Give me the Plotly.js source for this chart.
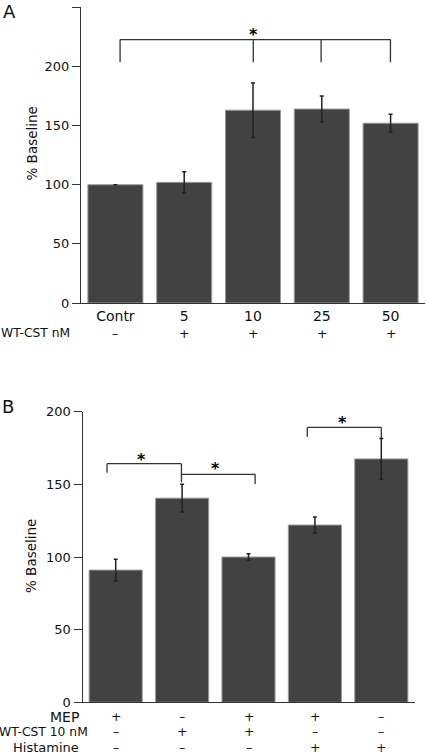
<!DOCTYPE html>
<html>
<head>
<meta charset="utf-8">
<script src="https://cdn.plot.ly/plotly-3.0.1.min.js"></script>
<style>html,body{margin:0;padding:0;background:#fff;}#chart{width:427px;height:754px;}</style>
</head>
<body>
<div id="chart"></div>
<script>
// Panel A data
const catsA = ["Contr", "5", "10", "25", "50"];
const valsA = [100, 102, 163, 164, 152];
const errA = [null, 9, 23, 11, 7.5];
const rowLabelA = "WT-CST nM";
const rowA = ["–", "+", "+", "+", "+"];

// Panel B data
const catsB = ["MEP", "WT-CST", "MEP+WT-CST", "MEP+Histamine", "Histamine"];
const valsB = [91, 140.5, 100, 122, 167.5];
const errB = [7.5, 9.6, 2.3, 5.6, 14];
const rowLabelsB = ["MEP", "WT-CST 10 nM", "Histamine"];
const rowMEP = ["+", "–", "+", "+", "–"];
const rowWT = ["–", "+", "+", "–", "–"];
const rowHist = ["–", "–", "–", "+", "+"];

const W = 427, H = 754;
const py = p => 1 - p / H;
const px = p => p / W;
const FONT = "DejaVu Sans, sans-serif";
const barFill = "#424242", barEdge = "#9a9a9a", lineCol = "#333";

const traces = [
  {type: "bar", x: catsA, y: valsA, xaxis: "x", yaxis: "y",
   marker: {color: barFill, line: {color: barEdge, width: 1}},
   error_y: {type: "data", array: errA, visible: true, color: "#222", thickness: 1.5, width: 2},
   hoverinfo: "skip"},
  {type: "bar", x: catsB, y: valsB, xaxis: "x2", yaxis: "y2",
   marker: {color: barFill, line: {color: barEdge, width: 1}},
   error_y: {type: "data", array: errB, visible: true, color: "#222", thickness: 1.5, width: 2},
   hoverinfo: "skip"}
];

const ann = [];
const tf = (s, c) => ({family: FONT, size: s, color: c || "#111"});
// Panel letters
ann.push({text: "A", xref: "paper", yref: "paper", x: px(9), y: py(12), xanchor: "center", yanchor: "middle", showarrow: false, font: tf(18)});
ann.push({text: "B", xref: "paper", yref: "paper", x: px(8), y: py(406), xanchor: "center", yanchor: "middle", showarrow: false, font: tf(18)});
// Y titles
ann.push({text: "% Baseline", xref: "paper", yref: "paper", x: px(32), y: py(143.5), textangle: -90, xanchor: "center", yanchor: "middle", showarrow: false, font: tf(13.5)});
ann.push({text: "% Baseline", xref: "paper", yref: "paper", x: px(31), y: py(556), textangle: -90, xanchor: "center", yanchor: "middle", showarrow: false, font: tf(13.5)});
// Row labels A
ann.push({text: rowLabelA, xref: "paper", yref: "paper", x: px(71.5), y: py(333), xanchor: "right", yanchor: "middle", showarrow: false, font: tf(12.3)});
rowA.forEach((s, i) => ann.push({text: s, xref: "x", yref: "paper", x: i, y: py(333.5), xanchor: "center", yanchor: "middle", showarrow: false, font: tf(12.5)}));
// Row labels B
const rowsB = [rowMEP, rowWT, rowHist];
const rowY = [716.7, 731.7, 747.3];
const rowRight = [80.7, 89.5, 80.7];
const rowSize = [14, 12.3, 13];
rowLabelsB.forEach((lab, r) => {
  ann.push({text: lab, xref: "paper", yref: "paper", x: px(rowRight[r]), y: py(rowY[r]), xanchor: "right", yanchor: "middle", showarrow: false, font: tf(rowSize[r])});
  rowsB[r].forEach((s, i) => ann.push({text: s, xref: "x2", yref: "paper", x: i, y: py(rowY[r]), xanchor: "center", yanchor: "middle", showarrow: false, font: tf(12.5)}));
});
// Asterisks
const star = (xr, yr, x, y) => ann.push({text: "<b>*</b>", xref: xr, yref: yr, x: x, y: y, xanchor: "center", yanchor: "middle", showarrow: false, font: tf(16, "#000")});
star("x", "y", 2.014, 227);
star("x2", "y2", 0.388, 167.4);
star("x2", "y2", 1.498, 160.9);
star("x2", "y2", 3.413, 192.9);

const shapes = [];
const seg = (xr, yr, x0, y0, x1, y1) => shapes.push({type: "line", xref: xr, yref: yr, x0, y0, x1, y1, line: {color: "#333", width: 1.3}});
// Panel A bracket
seg("x", "y", 0.068, 222.7, 3.998, 222.7);
[0.068, 2.004, 2.99, 3.998].forEach(v => seg("x", "y", v, 222.7, v, 203.5));
// Panel B brackets
seg("x2", "y2", -0.131, 164.2, 0.99, 164.2);
seg("x2", "y2", -0.131, 164.2, -0.131, 158);
seg("x2", "y2", 0.99, 164.2, 0.99, 151.4);
seg("x2", "y2", 0.99, 156.9, 2.1, 156.9);
seg("x2", "y2", 2.1, 156.9, 2.1, 150.2);
seg("x2", "y2", 2.885, 189.2, 4.0, 189.2);
seg("x2", "y2", 2.885, 189.2, 2.885, 182.8);
seg("x2", "y2", 4.0, 189.2, 4.0, 181.7);

const yax = (dom, range, dt) => ({domain: dom, range: range, dtick: dt, tick0: 0, showgrid: false, zeroline: false,
  showline: true, linecolor: lineCol, linewidth: 1, ticks: "outside", ticklen: 8, tickcolor: lineCol, tickwidth: 1,
  tickfont: tf(13), fixedrange: true});
const layout = {
  width: W, height: H, margin: {l: 0, r: 0, t: 0, b: 0},
  paper_bgcolor: "#fff", plot_bgcolor: "#fff", showlegend: false,
  bargap: 0.2,
  font: {family: FONT, color: "#111"},
  xaxis: {domain: [px(81), px(425)], anchor: "y", range: [-0.5, 4.5], type: "category", showgrid: false, zeroline: false,
    showline: true, linecolor: lineCol, linewidth: 1, ticks: "", tickfont: tf(14), fixedrange: true},
  yaxis: Object.assign(yax([py(303), py(7.3)], [0, 250], 50), {anchor: "x"}),
  xaxis2: {domain: [px(82.5), px(414.5)], anchor: "y2", range: [-0.5, 4.5], type: "category", showgrid: false, zeroline: false,
    showline: true, linecolor: lineCol, linewidth: 1, ticks: "", showticklabels: false, fixedrange: true},
  yaxis2: Object.assign(yax([py(702.3), py(411.7)], [0, 200], 50), {anchor: "x2"}),
  annotations: ann, shapes: shapes
};
Plotly.newPlot("chart", traces, layout, {displayModeBar: false, staticPlot: true});
</script>
</body>
</html>
